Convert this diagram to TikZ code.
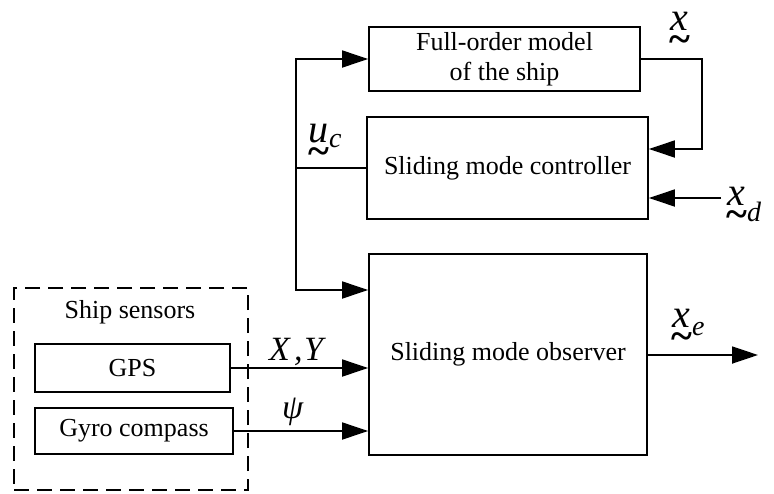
\documentclass[tikz,border=0pt]{standalone}
\usepackage{fontspec}
\setmainfont{Liberation Serif}
\usetikzlibrary{arrows.meta}
\newcommand\tvec[1]{\vtop{\offinterlineskip\halign{\hfil##\hfil\cr\itshape #1\cr\noalign{\kern0.14em}\bfseries\textasciitilde\cr}}}
\newcommand\subx[2]{\raisebox{-#1}{\fontsize{28}{28}\selectfont\itshape #2}}
\begin{document}
\begin{tikzpicture}[x=1pt,y=-1pt,
  blk/.style={draw,line width=1.8pt,inner sep=0pt,align=center,font=\fontsize{26}{30}\selectfont},
  sensbox/.style={draw,line width=1.8pt,dash pattern=on 15pt off 8pt},
  conn/.style={line width=1.8pt},
  arr/.style={conn,-{Triangle[length=26pt,width=17pt]}},
  lbl/.style={inner sep=0pt,font=\fontsize{34}{34}\selectfont},
  vlbl/.style={inner sep=0pt,font=\fontsize{40}{40}\selectfont},
  txt/.style={inner sep=0pt,font=\fontsize{26}{30}\selectfont}]
\useasboundingbox (0,0) rectangle (774,493);
% blocks
\node[blk,minimum width=271pt,minimum height=64pt] (fom) at (504.5,59) {Full-order model\\of the ship};
\node[blk,minimum width=281pt,minimum height=102pt] (smc) at (507.5,168) {Sliding mode controller};
\node[blk,minimum width=278pt,minimum height=201pt] (smo) at (508,354.5) {Sliding mode observer};
\node[sensbox,minimum width=234pt,minimum height=202pt,inner sep=0pt] (sens) at (131,389) {};
\node[txt] (senslbl) at (130,312) {Ship sensors};
\node[blk,minimum width=195pt,minimum height=48pt] (gps) at (132.5,368) {GPS};
\node[blk,minimum width=198pt,minimum height=46pt] (gyro) at (134,431) {Gyro compass};
% coordinates
\coordinate (j) at (296,168);
\coordinate (jt) at (296,59);
\coordinate (jb) at (296,290);
\coordinate (fb) at (702,149);
\coordinate (xd) at (721,198);
\coordinate (out) at (758,355);
% connectors
\draw[conn] (smc.west) -- (j);
\draw[arr] (j) -- (jt) -- (fom.west);
\draw[arr] (j) -- (jb) -- (smo.west |- jb);
\draw[arr] (fom.east) -| (fb) -- (smc.east |- fb);
\draw[arr] (xd) -- (smc.east |- xd);
\draw[arr] (gps.east) -- (smo.west |- gps.east);
\draw[arr] (gyro.east) -- (smo.west |- gyro.east);
\draw[arr] (smo.east |- out) -- (out);
% labels
\node[vlbl,anchor=base west] (lx) at (669,30) {\tvec{x}};
\node[vlbl,anchor=base west] (luc) at (308,142) {\tvec{u}\subx{5pt}{c}};
\node[vlbl,anchor=base west] (lxd) at (726,205) {\tvec{x}\subx{16pt}{d}};
\node[vlbl,anchor=base west] (lxe) at (671,327) {\tvec{x}\subx{8pt}{e}};
\node[lbl,anchor=base west] (lxy) at (269,360) {\itshape X\hspace{0.12em},\hspace{0.05em}Y};
\node[lbl,anchor=base west] (lpsi) at (282,418) {\itshape ψ};
\end{tikzpicture}
\end{document}
